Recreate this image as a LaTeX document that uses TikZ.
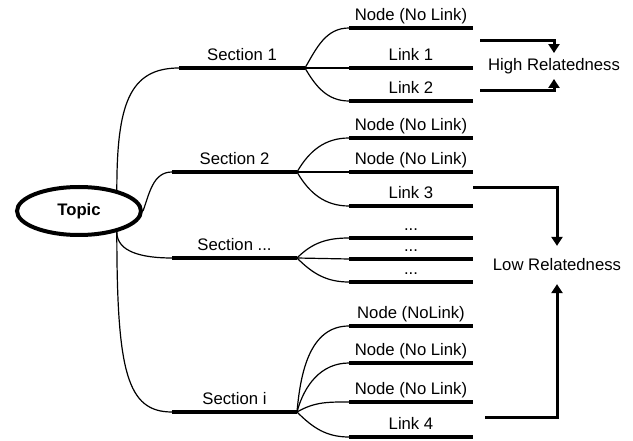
\documentclass[tikz,border=0pt]{standalone}
\usepackage{fontspec}
\setmainfont{Liberation Sans}
\usetikzlibrary{shapes.geometric,arrows.meta}

\begin{document}
\begin{tikzpicture}[x=1pt,y=1pt,
      font=\fontsize{16.7}{19}\selectfont,
      topicNode/.style={ellipse,draw,line width=4pt,minimum width=124,minimum height=48,inner sep=0,font=\fontsize{16.7}{19}\selectfont\bfseries},
      barNode/.style={fill,minimum width=#1,minimum height=4.5,inner sep=0,outer sep=0},
      barNode/.default=124,
      every label/.style={text depth=0pt,inner sep=5.3pt},
      twig/.style={line width=1.2pt},
      relArrow/.style={line width=3pt,-{Triangle[width=11pt,length=9pt]}},
      relNode/.style={inner sep=0,outer ysep=#1},
    ]

    \useasboundingbox (0,0) rectangle (633,440);

    \node[topicNode] (topic) at (79,229) {Topic};

    % sections
    \node[barNode=126,label={above:Section 1}] (s1) at (242,372) {};
    \node[barNode=125,label={above:Section 2}] (s2) at (234.5,268) {};
    \node[barNode=125,label={above:Section ...}] (s3) at (234.5,182) {};
    \node[barNode=125,label={above:Section i}] (s4) at (234.5,28) {};

    \draw[twig] (topic.29) .. controls +(0,85) and +(-50,0) .. (s1.west);
    \draw[twig] (topic.east) to[out=70,in=180] (s2.west);
    \draw[twig] (topic.-29) .. controls +(0,-20) and +(-30,0) .. (s3.west);
    \draw[twig] (topic.-29) .. controls +(0,-140) and +(-45,0) .. (s4.west);

    % leaves of section 1
    \node[barNode,label={above:Node (No Link)}] (a1) at (411,412) {};
    \node[barNode,label={above:Link 1}] (a2) at (411,372) {};
    \node[barNode,label={above:Link 2}] (a3) at (411,339) {};
    \draw[twig] (s1.east) to[out=60,in=180] (a1.west);
    \draw[twig] (s1.east) -- (a2.west);
    \draw[twig] (s1.east) to[out=-60,in=180] (a3.west);

    % leaves of section 2
    \node[barNode,label={above:Node (No Link)}] (b1) at (411,302) {};
    \node[barNode,label={above:Node (No Link)}] (b2) at (411,268) {};
    \node[barNode,label={above:Link 3}] (b3) at (411,234) {};
    \draw[twig] (s2.east) to[out=60,in=180] (b1.west);
    \draw[twig] (s2.east) -- (b2.west);
    \draw[twig] (s2.east) to[out=-60,in=180] (b3.west);

    % leaves of section ...
    \node[barNode,label={above:...}] (c1) at (411,202) {};
    \node[barNode,label={above:...}] (c2) at (411,181) {};
    \node[barNode,label={above:...}] (c3) at (411,158) {};
    \draw[twig] (s3.east) to[out=45,in=180] (c1.west);
    \draw[twig] (s3.east) -- (c2.west);
    \draw[twig] (s3.east) to[out=-45,in=180] (c3.west);

    % leaves of section i
    \node[barNode,label={above:Node (NoLink)}] (d1) at (411,114) {};
    \node[barNode,label={above:Node (No Link)}] (d2) at (411,77) {};
    \node[barNode,label={above:Node (No Link)}] (d3) at (411,38) {};
    \node[barNode,label={above:Link 4}] (d4) at (411,3) {};
    \draw[twig] (s4.east) to[out=85,in=180] (d1.west);
    \draw[twig] (s4.east) to[out=75,in=180] (d2.west);
    \draw[twig] (s4.east) to[out=30,in=180] (d3.west);
    \draw[twig] (s4.east) to[out=-45,in=180] (d4.west);

    % relatedness
    \node[relNode=5.2pt] (high) at (554,374) {High Relatedness};
    \node[relNode=13pt] (low) at (557,175) {Low Relatedness};

    \coordinate (h1) at (480,399);
    \coordinate (h2) at (480,349);
    \coordinate (l1) at (473,252);
    \coordinate (l2) at (485,23);

    \draw[relArrow] (h1) -| (high.north);
    \draw[relArrow] (h2) -| (high.south);
    \draw[relArrow] (l1) -| (low.north);
    \draw[relArrow] (l2) -| (low.south);

	\end{tikzpicture}
\end{document}
